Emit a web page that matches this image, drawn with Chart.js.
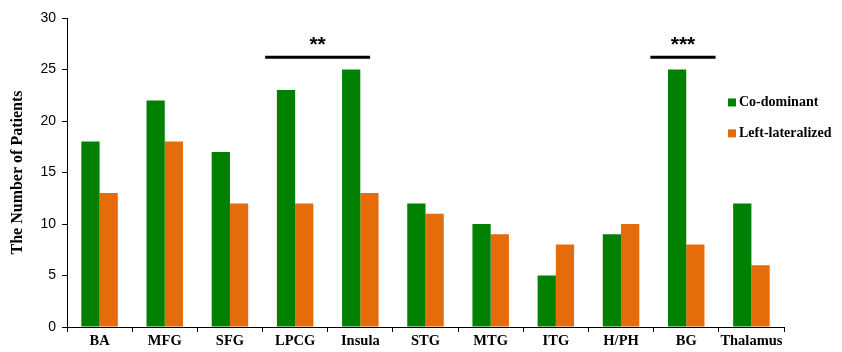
<!DOCTYPE html>
<html>
<head>
<meta charset="utf-8">
<script src="https://cdn.jsdelivr.net/npm/chart.js@4.4.1/dist/chart.umd.min.js"></script>
<style>
  html, body { margin: 0; padding: 0; background: #fff; }
  #wrap { width: 842px; height: 352px; }
</style>
</head>
<body>
<div id="wrap"><canvas id="chart" width="842" height="352"></canvas></div>
<script>
const regions = ["BA", "MFG", "SFG", "LPCG", "Insula", "STG", "MTG", "ITG", "H/PH", "BG", "Thalamus"];
const coDominant = [18, 22, 17, 23, 25, 12, 10, 5, 9, 25, 12];
const leftLateralized = [13, 18, 12, 12, 13, 11, 9, 8, 10, 8, 6];
const yTicks = [0, 5, 10, 15, 20, 25, 30];
// significance brackets: [from category, to category, label]
const brackets = [
  { from: 3 - 0.46, to: 4 + 0.15, label: "**", value: 26.2 },
  { from: 9 - 0.55, to: 9 + 0.45, label: "***", value: 26.2 }
];

const serif = "'Liberation Serif', 'DejaVu Serif', serif";
const sans = "'Liberation Sans', Arial, sans-serif";

const extras = {
  id: "extras",
  afterDatasetsDraw(chart) {
    const { ctx, scales: { x, y } } = chart;
    ctx.save();
    brackets.forEach((b) => {
      const x1 = x.getPixelForValue(b.from);
      const x2 = x.getPixelForValue(b.to);
      const yy = y.getPixelForValue(b.value);
      ctx.strokeStyle = "#000";
      ctx.lineWidth = 3;
      ctx.beginPath();
      ctx.moveTo(x1, yy);
      ctx.lineTo(x2, yy);
      ctx.stroke();
      ctx.fillStyle = "#000";
      ctx.font = "bold 21px " + sans;
      ctx.textAlign = "center";
      ctx.textBaseline = "middle";
      ctx.fillText(b.label, (x1 + x2) / 2, yy - 12);
    });
    // legend
    chart.data.datasets.forEach((ds, i) => {
      const ly = y.getPixelForValue(21.8 - i * 3.0);
      ctx.fillStyle = ds.backgroundColor;
      ctx.fillRect(728, ly - 4, 8, 8);
      ctx.fillStyle = "#000";
      ctx.font = "bold 14px " + serif;
      ctx.textAlign = "left";
      ctx.textBaseline = "middle";
      ctx.fillText(ds.label, 739, ly);
    });
    ctx.restore();
  }
};

new Chart(document.getElementById("chart"), {
  type: "bar",
  data: {
    labels: regions,
    datasets: [
      { label: "Co-dominant", data: coDominant, backgroundColor: "#008000" },
      { label: "Left-lateralized", data: leftLateralized, backgroundColor: "#E46C0A" }
    ]
  },
  options: {
    responsive: false,
    animation: false,
    layout: { padding: { left: 8, right: 58, top: 18, bottom: 0 } },
    datasets: { bar: { categoryPercentage: 0.56, barPercentage: 1 } },
    plugins: { legend: { display: false }, tooltip: { enabled: false } },
    scales: {
      x: {
        grid: { drawOnChartArea: false, color: "#000", tickLength: 5, offset: true },
        border: { color: "#000", width: 1 },
        ticks: { color: "#000", font: { family: serif, size: 14.5, weight: "bold" }, padding: 1, maxRotation: 0, autoSkip: false },
        afterFit(scale) { scale.height = 25; }
      },
      y: {
        min: 0,
        max: 30,
        afterBuildTicks(scale) { scale.ticks = yTicks.map((v) => ({ value: v })); },
        grid: { drawOnChartArea: false, color: "#000", tickLength: 5 },
        border: { color: "#000", width: 1 },
        ticks: { color: "#000", font: { family: sans, size: 14 }, padding: 6 },
        title: { display: true, text: "The Number of Patients", color: "#000", font: { family: serif, size: 16, weight: "bold" }, padding: { top: 0, bottom: 6 } },
        afterFit(scale) { scale.width = 59; }
      }
    }
  },
  plugins: [extras]
});
</script>
</body>
</html>
